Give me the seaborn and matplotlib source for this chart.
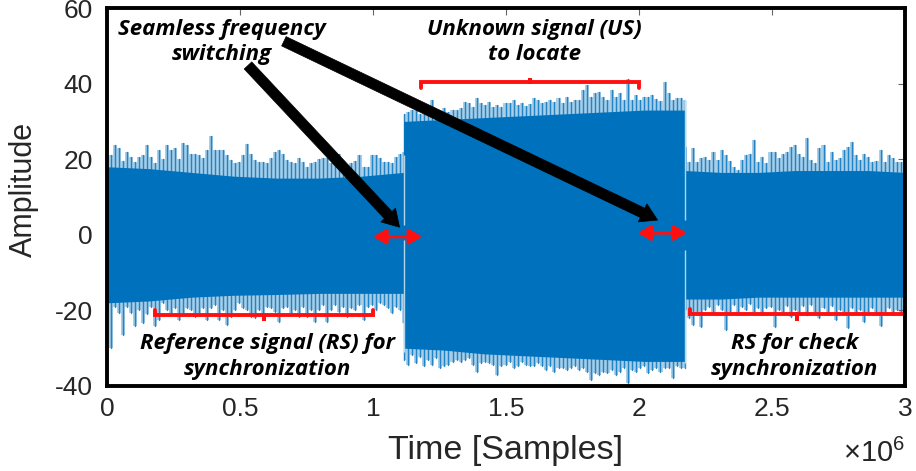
import numpy as np
import pandas as pd
import matplotlib
matplotlib.use("Agg")
import matplotlib.pyplot as plt
import seaborn as sns

# ---------------- data ----------------
# time spans of the three transmitted blocks (samples)
rs_span = (0.0, 1.115e6)
us_span = (1.115e6, 2.1727e6)
rs2_span = (2.1727e6, 3.0e6)

# peak envelope of the reference signal (RS)
rs_upper = [21, 21, 23.8, 23, 19.5, 22, 20.5, 19.3, 20.7, 21,
            23.8, 20.6, 18.9, 22.5, 20, 23.7, 22.4, 22.9, 20, 24.4,
            23.7, 21.5, 21.5, 21.1, 20.2, 22.4, 26.1, 22.4, 22.4, 22.4,
            21.1, 19.8, 18.9, 19.3, 21, 24, 21.5, 19.8, 19.3, 19.3,
            19, 20.2, 22, 22.4, 21.5, 19.8, 19.3, 19, 20.2, 19.3,
            18, 18.9, 19.3, 20, 20.2, 20.2, 18.9, 19.5, 21.5, 18.9,
            18.5, 18.9, 19.5, 21.1, 18, 18, 21.1, 21.1, 20.2, 19.3,
            19.3, 19, 20.6, 21.5, 22]
rs_lower = [-21, -30, -19, -20.8, -26.5, -19, -20.8, -24, -19.9, -23.4,
            -21, -19, -24, -22.5, -18.1, -19.9, -20.8, -19.5, -22.5, -20.8,
            -19.5, -19.9, -21.7, -20.8, -19.5, -22.5, -19.5, -18.6, -22.5, -20,
            -23.9, -21.7, -19.9, -18.1, -19.5, -19.9, -21.7, -22.1, -20, -21.2,
            -19, -19.5, -20.3, -23, -19.5, -19, -20.8, -19.9, -21.7, -19,
            -21.7, -19.9, -23, -19.9, -18.6, -23, -19.9, -18.6, -20.3, -19,
            -21.7, -19.5, -19.9, -18.6, -22.5, -19, -18.6, -19.9, -18.1, -18.6,
            -19.5, -20.8, -19, -19.9, -23.4]
rs_core_hi = [18, 17.5, 16.5, 15.5, 15, 15, 15.5, 16.5]
rs_core_lo = [-18, -17.5, -16.5, -16, -15.8, -15.5, -15.5, -15.5]

# peak envelope of the unknown signal (US)
us_upper = [32, 32.5, 33, 33, 32, 32, 33, 35.7, 33, 32.1,
            33.5, 32.5, 33, 33, 33.5, 35.2, 34.8, 33.9, 36.2, 34.8,
            34.3, 35.2, 33.9, 34.3, 33.9, 34.8, 34.8, 35.7, 34.3, 34.8,
            34, 34.5, 36.1, 35.7, 34.8, 35.2, 35.7, 35.2, 36.1, 34.8,
            36.5, 35.2, 35.7, 35.7, 38.3, 39.6, 36.5, 37.4, 37.8, 36.5,
            35.7, 38.3, 36.5, 37.4, 35.7, 41.1, 35.7, 37, 35.7, 36.5,
            36.5, 37, 36, 35.5, 40.4, 37.4, 35.7, 36.1, 36.1, 35.7]
us_lower = [-33.1, -34.4, -31.8, -34, -32.2, -34.8, -33.1, -34.4, -32.7, -35.3,
            -34.8, -34.4, -33.6, -33.1, -33.6, -33.1, -32.7, -34.4, -36.2, -34,
            -33.6, -34, -34.4, -37.1, -34.8, -34.4, -33.6, -35.3, -34.8, -33.6,
            -34.4, -34.8, -34.8, -34, -34.8, -35.8, -34.8, -36.2, -35.3, -35.3,
            -35.8, -35.3, -34.8, -35.8, -35.3, -36.2, -38.4, -36.6, -37.1, -36.2,
            -36.6, -35.8, -37.1, -36.2, -35.3, -39.3, -35.8, -36.2, -35.3, -34.8,
            -36.6, -35.8, -35.3, -36.2, -35.3, -35.3, -38, -34.8, -35.3, -35.3]
us_core_hi = [30, 30.5, 31, 31.5, 32, 32.5, 33, 33]
us_core_lo = [-30, -30.5, -31.5, -32, -32.5, -33, -33.5, -33.5]

# peak envelope of the second reference block (RS for check)
rs2_upper = [23.3, 19.3, 22.9, 19.3, 20.2, 20.5, 19.8, 22, 19.8, 22.4,
             21.1, 19.5, 18, 17.1, 19.8, 21.1, 21.5, 25, 19.3, 20.6,
             18.9, 22, 22, 20.2, 21.5, 22, 23.3, 23.7, 21.5, 20.5,
             25.5, 19.8, 18.9, 22.9, 23.7, 19.3, 22, 19.8, 20.2, 22.4,
             23.3, 24.6, 21.1, 19.8, 21.5, 20.6, 19.3, 19.5, 22.4, 19.3,
             21.1, 20.2, 19.3, 19.3, 18.9]
rs2_lower = [-19.9, -22.1, -23.9, -21, -24.4, -19.9, -19, -21, -18.6, -19.9,
             -25.2, -20.5, -18.6, -21.2, -19, -19.9, -18.2, -20.5, -19.5, -21.2,
             -19.5, -19, -24.4, -19.9, -20.5, -18.9, -21.7, -19.9, -20.5, -18.9,
             -21.2, -18.6, -20.5, -22.1, -19.5, -21.2, -18.9, -22.5, -19.9, -20.5,
             -24.7, -19.5, -21, -19.9, -23, -20.5, -19.5, -21.2, -24, -20.5,
             -19.5, -21.2, -20, -21, -20.5]
rs2_core_hi = [17, 16.5, 16.5, 17, 17, 17, 16.5]
rs2_core_lo = [-17, -17, -16.5, -16.5, -16.5, -16.5, -16.5]

# switching instants and the residual amplitude there
switch_t = [1.115e6, 2.1727e6]
switch_hi = [2.5, 4.0]
switch_lo = [-1.5, -4.0]
switch_top = [21, 36]
switch_bottom = [-31, -34]

x_ticks = [0, 0.5e6, 1.0e6, 1.5e6, 2.0e6, 2.5e6, 3.0e6]
x_tick_labels = ["0", "0.5", "1", "1.5", "2", "2.5", "3"]
y_ticks = [-40, -20, 0, 20, 40, 60]

# ---------------- style ----------------
sns.set_theme(style="white")
plt.rcParams["font.family"] = ["Liberation Sans", "DejaVu Sans"]
plt.rcParams["axes.unicode_minus"] = False
plt.rcParams["mathtext.fontset"] = "custom"
plt.rcParams["mathtext.rm"] = "Liberation Sans"
plt.rcParams["mathtext.it"] = "Liberation Sans:italic"

BLUE = "#0072BD"
RED = "#FF1010"
TXT = "#262626"
ANN_FONT = ["Open Sans", "DejaVu Sans"]

fig = plt.figure(figsize=(9.16, 4.71), dpi=100)
ax = fig.add_axes([0.1168, 0.1805, 0.8712, 0.8025])

# ---------------- signal ----------------
rows = []
uid = 0
blocks = [(rs_span, rs_upper, rs_lower, rs_core_hi, rs_core_lo),
          (us_span, us_upper, us_lower, us_core_hi, us_core_lo),
          (rs2_span, rs2_upper, rs2_lower, rs2_core_hi, rs2_core_lo)]
for span, up, lo, chi, clo in blocks:
    t = np.linspace(span[0], span[1], len(up))
    for ti, u, l in zip(t, up, lo):
        rows.append((uid, ti, l))
        rows.append((uid, ti, u))
        uid += 1
    # faint per-sample peak skyline
    ax.fill_between(t, lo, up, step="mid", color=BLUE, alpha=0.34, lw=0, zorder=1)
    # dense body of the signal
    tc = np.linspace(span[0], span[1], len(chi))
    ax.fill_between(tc, clo, chi, color=BLUE, lw=0, zorder=3)

spikes = pd.DataFrame(rows, columns=["uid", "t", "amp"])
sns.lineplot(data=spikes, x="t", y="amp", units="uid", estimator=None,
             sort=False, color=BLUE, linewidth=1.05, alpha=0.8,
             legend=False, ax=ax, zorder=2)

# switching instants: the amplitude collapses for a few samples
ax.vlines(switch_t, switch_hi, switch_top, color="white", lw=1.0, alpha=0.7, zorder=4)
ax.vlines(switch_t, switch_bottom, switch_lo, color="white", lw=1.0, alpha=0.7, zorder=4)

# ---------------- annotations ----------------
def bracket(x0, x1, y, hook, tick):
    xc = 0.5 * (x0 + x1)
    ax.plot([x0, x0, xc, xc, xc, x1, x1],
            [y + hook, y, y, y + tick, y, y, y + hook],
            color=RED, lw=2.8, solid_joinstyle="miter", zorder=5, clip_on=False)

bracket(1.18e6, 2.0e6, 40.4, -1.6, 1.2)
bracket(0.18e6, 1.0e6, -21.1, 1.2, -1.8)
bracket(2.19e6, 3.0e6, -21.0, 1.4, -1.8)

for x0, x1, y in [(1.0e6, 1.185e6, -0.5), (1.995e6, 2.18e6, 0.5)]:
    ax.annotate("", xy=(x1, y), xytext=(x0, y),
                arrowprops=dict(arrowstyle="<|-|>,head_length=0.55,head_width=0.32",
                                color=RED, lw=2.4, mutation_scale=14,
                                shrinkA=0, shrinkB=0), zorder=6)

black_arrows = [((0.53e6, 44.8), (1.1e6, 2.0)), ((0.665e6, 51.2), (2.07e6, 3.9))]
for tail, head in black_arrows:
    ax.annotate("", xy=head, xytext=tail,
                arrowprops=dict(arrowstyle="simple,head_length=1.0,head_width=1.2,tail_width=0.62",
                                fc="black", ec="black", lw=0.5, mutation_scale=12,
                                shrinkA=0, shrinkB=0), zorder=7)

ann_kw = dict(family=ANN_FONT, fontweight="bold", fontstyle="italic",
              fontsize=16, color="black", ha="center", va="center",
              linespacing=1.27, zorder=8)
ax.text(0.43e6, 51.0, "Seamless frequency\nswitching", **ann_kw)
ax.text(1.607e6, 51.0, "Unknown signal (US)\nto locate", **ann_kw)
ax.text(0.605e6, -32.2, "Reference signal (RS) for\nsynchronization", **ann_kw)
ax.text(2.585e6, -32.2, "RS for check\nsynchronization", **ann_kw)

# ---------------- axes ----------------
ax.set_xlim(0, 3.0e6)
ax.set_ylim(-40, 60)
ax.set_xticks(x_ticks)
ax.set_xticklabels(x_tick_labels)
ax.set_yticks(y_ticks)
ax.tick_params(axis="both", direction="in", length=5, width=0.8, color="#666666",
               labelsize=19, labelcolor=TXT, top=True, right=True)
ax.tick_params(axis="x", pad=8)
ax.tick_params(axis="y", pad=10)
for s in ax.spines.values():
    s.set_visible(True)
    s.set_color("black")
    s.set_linewidth(2.8)
    s.set_zorder(9)
ax.set_xlabel("Time [Samples]", fontsize=24.5, color=TXT, labelpad=10)
ax.set_ylabel("Amplitude", fontsize=22, color=TXT)
ax.yaxis.set_label_coords(-0.085, 0.52)
ax.text(1.0, -0.2, r"$\times10^{6}$", transform=ax.transAxes, ha="right",
        va="baseline", fontsize=21, color=TXT)
ax.set_facecolor("white")

fig.savefig("out.png", dpi=100)
